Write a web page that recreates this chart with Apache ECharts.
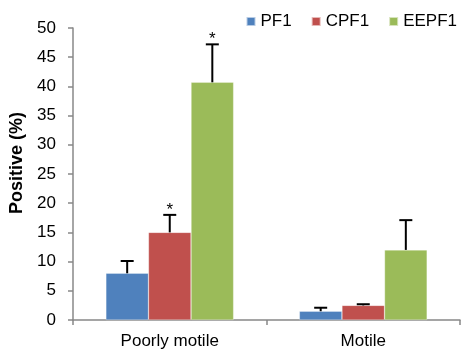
<!DOCTYPE html>
<html>
<head>
<meta charset="utf-8">
<script src="https://cdn.jsdelivr.net/npm/echarts@6/dist/echarts.min.js"></script>
<style>
  html, body { margin: 0; padding: 0; background: #fff; }
  #chart { width: 464px; height: 354px; }
</style>
</head>
<body>
<div id="chart"></div>
<script>
// Groups and series
var categories = ['Poorly motile', 'Motile'];
var seriesNames = ['PF1', 'CPF1', 'EEPF1'];
var colors = ['#4F81BD', '#C0504D', '#9BBB59'];

// Mean percentage positive
var pf1 = [8.0, 1.5];
var cpf1 = [15.0, 2.5];
var eepf1 = [40.7, 12.0];

// Upper error (SD) added on top of each mean
var pf1Err = [2.1, 0.6];
var cpf1Err = [3.0, 0.2];
var eepf1Err = [6.5, 5.1];

// Significance markers (1 = asterisk drawn above error bar)
var pf1Sig = [0, 0];
var cpf1Sig = [1, 0];
var eepf1Sig = [1, 0];

var yTicks = { min: 0, max: 50, interval: 5 };

var means = [pf1, cpf1, eepf1];
var errs = [pf1Err, cpf1Err, eepf1Err];
var sigs = [pf1Sig, cpf1Sig, eepf1Sig];

var CAT_GAP = 0.34;
var FONT = 'Liberation Sans, Arial, sans-serif';

function errorSeries(idx) {
  var data = categories.map(function (c, i) {
    return [i, means[idx][i], means[idx][i] + errs[idx][i], sigs[idx][i]];
  });
  return {
    type: 'custom',
    name: seriesNames[idx] + ' error',
    z: 10,
    silent: true,
    renderItem: function (params, api) {
      var ci = api.value(0);
      var base = api.coord([ci, api.value(1)]);
      var top = api.coord([ci, api.value(2)]);
      var band = api.size([1, 0])[0];
      var bw = band * (1 - CAT_GAP) / 3;
      var x = base[0] + (idx - 1) * bw;
      var half = 6.5;
      var children = [
        { type: 'line', shape: { x1: x, y1: base[1], x2: x, y2: top[1] },
          style: { stroke: '#000', lineWidth: 2 } },
        { type: 'line', shape: { x1: x - half, y1: top[1], x2: x + half, y2: top[1] },
          style: { stroke: '#000', lineWidth: 2 } }
      ];
      if (api.value(3)) {
        children.push({
          type: 'text',
          style: { text: '*', x: x, y: top[1] - 5, textAlign: 'center', textVerticalAlign: 'middle',
                   font: '17px ' + FONT, fill: '#000' }
        });
      }
      return { type: 'group', children: children };
    },
    data: data
  };
}

var barSeries = seriesNames.map(function (n, idx) {
  return {
    type: 'bar',
    name: n,
    data: means[idx],
    barGap: '0%',
    barCategoryGap: (CAT_GAP * 100) + '%',
    itemStyle: { color: colors[idx], borderColor: 'rgba(255,255,255,0.6)', borderWidth: 0.5 }
  };
});

var chart = echarts.init(document.getElementById('chart'), null, { renderer: 'canvas' });
chart.setOption({
  animation: false,
  color: colors,
  textStyle: { fontFamily: FONT },
  legend: {
    data: seriesNames,
    top: 8,
    right: 2,
    itemWidth: 9,
    itemHeight: 9,
    itemGap: 19,
    icon: 'rect',
    textStyle: { fontSize: 17, color: '#000', fontFamily: FONT }
  },
  grid: { left: 73, right: 4, top: 28, bottom: 34 },
  xAxis: {
    type: 'category',
    data: categories,
    axisLine: { lineStyle: { color: '#888', width: 1.5 } },
    axisTick: { show: true, length: 5, lineStyle: { color: '#888', width: 1.5 } },
    axisLabel: { fontSize: 17, color: '#000', margin: 13, fontFamily: FONT }
  },
  yAxis: {
    type: 'value',
    min: yTicks.min,
    max: yTicks.max,
    interval: yTicks.interval,
    name: 'Positive (%)',
    nameLocation: 'middle',
    nameGap: 45,
    nameTextStyle: { fontSize: 18, fontWeight: 'bold', color: '#000', fontFamily: FONT,
                     padding: [0, 0, 0, 22] },
    splitLine: { show: false },
    axisLine: { show: true, lineStyle: { color: '#888', width: 1.5 } },
    axisTick: { show: true, length: 5, lineStyle: { color: '#888', width: 1.5 } },
    axisLabel: { fontSize: 17, color: '#000', margin: 17, fontFamily: FONT }
  },
  series: barSeries.concat([0, 1, 2].map(errorSeries))
});
</script>
</body>
</html>
